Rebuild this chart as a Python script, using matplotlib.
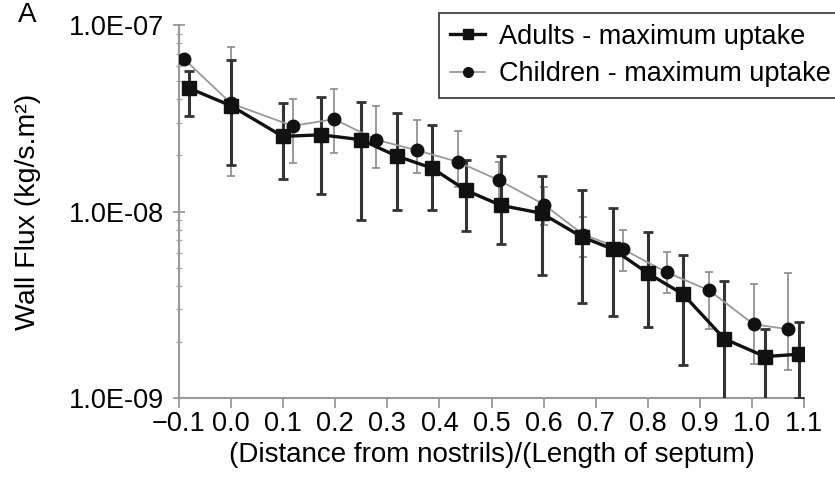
import matplotlib.pyplot as plt
import numpy as np

plt.rcParams['font.family'] = ['Liberation Sans', 'DejaVu Sans']

# adults - maximum uptake
adult_x     = [-0.08, 0.0, 0.099, 0.173, 0.249, 0.319, 0.386, 0.451, 0.518, 0.596,
               0.673, 0.734, 0.801, 0.868, 0.947, 1.025, 1.091]
adult_flux  = [4.58e-8, 3.69e-8, 2.53e-8, 2.58e-8, 2.43e-8, 1.98e-8, 1.71e-8, 1.30e-8, 1.08e-8, 9.8e-9,
               7.33e-9, 6.27e-9, 4.66e-9, 3.6e-9, 2.08e-9, 1.67e-9, 1.72e-9]
adult_upper = [5.7e-8, 6.5e-8, 3.81e-8, 4.14e-8, 3.89e-8, 3.37e-8, 2.91e-8, 1.88e-8, 1.99e-8, 1.56e-8,
               1.31e-8, 1.05e-8, 7.74e-9, 5.82e-9, 4.24e-9, 2.34e-9, 2.57e-9]
adult_lower = [3.24e-8, 1.78e-8, 1.5e-8, 1.24e-8, 9.06e-9, 1.02e-8, 1.02e-8, 7.85e-9, 6.7e-9, 4.55e-9,
               3.25e-9, 2.76e-9, 2.41e-9, 1.5e-9, 8e-10, 8e-10, 1.0e-9]

# children - maximum uptake
child_x     = [-0.09, 0.0, 0.118, 0.198, 0.278, 0.357, 0.435, 0.515, 0.601, 0.676,
               0.753, 0.836, 0.918, 1.003, 1.07]
child_flux  = [6.56e-8, 3.8e-8, 2.88e-8, 3.13e-8, 2.43e-8, 2.13e-8, 1.85e-8, 1.47e-8, 1.09e-8, 7.53e-9,
               6.27e-9, 4.73e-9, 3.78e-9, 2.49e-9, 2.34e-9]
child_upper = [6.9e-8, 7.66e-8, 4.02e-8, 4.53e-8, 3.66e-8, 3.1e-8, 2.69e-8, 1.85e-8, 1.35e-8, 9.4e-9,
               8.0e-9, 6.05e-9, 4.73e-9, 4.07e-9, 4.66e-9]
child_lower = [6.2e-8, 1.56e-8, 1.82e-8, 2.06e-8, 1.71e-8, 1.62e-8, 1.35e-8, 1.15e-8, 8.5e-9, 5.7e-9,
               4.8e-9, 3.64e-9, 2.34e-9, 1.52e-9, 1.42e-9]

y_ticks  = [1e-9, 1e-8, 1e-7]
y_labels = ['1.0E-09', '1.0E-08', '1.0E-07']
x_ticks  = np.round(np.arange(-0.1, 1.15, 0.1), 1)
x_labels = ['\u22120.1'] + ['%.1f' % v for v in x_ticks[1:]]

fig = plt.figure(figsize=(8.35, 4.82), dpi=100)
ax = fig.add_axes([0.2144, 0.174, 0.7485, 0.774])

c_err = np.array(child_flux)
ax.errorbar(child_x, child_flux,
            yerr=[c_err - np.array(child_lower), np.array(child_upper) - c_err],
            fmt='none', ecolor='#8a8a8a', elinewidth=1.2, capsize=3, capthick=1.2, zorder=2)
a_err = np.array(adult_flux)
ax.errorbar(adult_x, adult_flux,
            yerr=[a_err - np.array(adult_lower), np.array(adult_upper) - a_err],
            fmt='none', ecolor='#333333', elinewidth=2.2, capsize=3.5, capthick=2, zorder=3)

ax.plot(adult_x, adult_flux, color='#111111', lw=2.4, marker='s', ms=10,
        mfc='#111111', mec='#111111', zorder=5, label='Adults - maximum uptake')
ax.plot(child_x, child_flux, color='#999999', lw=1.3, marker='o', ms=9,
        mfc='#111111', mec='#111111', zorder=4, label='Children - maximum uptake')

ax.set_yscale('log')
ax.set_ylim(1e-9, 1e-7)
ax.set_xlim(-0.1, 1.1)
ax.set_yticks(y_ticks)
ax.set_yticklabels(y_labels)
ax.set_xticks(x_ticks)
ax.set_xticklabels(x_labels)

for s in ['top', 'right']:
    ax.spines[s].set_visible(False)
for s in ['left', 'bottom']:
    ax.spines[s].set_color('#999999')
    ax.spines[s].set_linewidth(1.5)

ax.tick_params(axis='both', which='major', labelsize=19.5, color='#999999', width=1.3)
ax.tick_params(axis='x', which='major', length=7, direction='out', pad=2)
ax.tick_params(axis='y', which='major', length=8, direction='inout', pad=7)
ax.tick_params(axis='y', which='minor', length=4, direction='inout', color='#aaaaaa', width=1)

ax.set_xlabel('(Distance from nostrils)/(Length of septum)', fontsize=20, labelpad=4)
ax.set_ylabel('Wall Flux (kg/s.m\u00b2)', fontsize=20.5, labelpad=20)

leg = ax.legend(loc='upper right', bbox_to_anchor=(1.06, 1.032), fontsize=19.5,
                frameon=True, fancybox=False, edgecolor='#111111',
                borderpad=0.4, handlelength=1.3, handletextpad=0.5, labelspacing=0.42,
                borderaxespad=0)
leg.get_frame().set_linewidth(1.3)
for h in leg.legend_handles:
    h.set_markersize(7)

fig.text(0.022, 0.955, 'A', fontsize=20)

fig.savefig('out.png', dpi=100)
